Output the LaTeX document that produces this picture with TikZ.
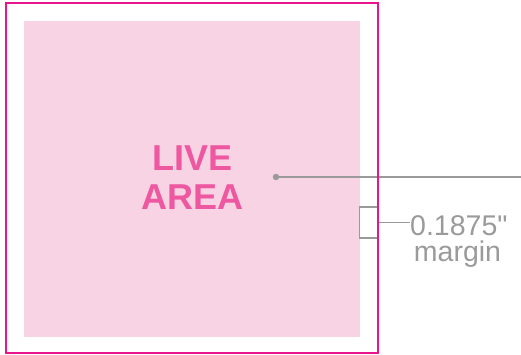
\documentclass[tikz,border=0pt]{standalone}
\usepackage{fontspec}
\setmainfont{Liberation Sans}
\newfontfamily\notefont{Liberation Sans}
\definecolor{trim}{HTML}{E8158C}
\definecolor{livefill}{HTML}{F8D3E4}
\definecolor{livetext}{HTML}{EE58A0}
\definecolor{note}{HTML}{9A9A9A}
\begin{document}
\begin{tikzpicture}[x=1pt,y=1pt]
\path[use as bounding box] (0,0) rectangle (521,355);
\fill[livefill](24,18)rectangle(360,334);
\node[text=livetext,font=\bfseries\fontsize{36}{39}\selectfont,align=center](live) at (192.5,177){LIVE\\AREA};
% pointer out to the right
\coordinate(dot) at (276,178);
\coordinate(out) at (521,178);
\draw[note,line width=1.6](dot)--(out);
\filldraw[note](dot)circle(3);
% margin bracket and label
\node[draw=note,line width=1.6,minimum width=18,minimum height=31,inner sep=0](gap) at (368.5,132.5){};
\node[text=note,font=\notefont\fontsize{28.5}{24}\selectfont,anchor=base west,inner sep=0](size) at (410,119.5){0.1875"};
\node[text=note,font=\notefont\fontsize{28.5}{24}\selectfont,anchor=base,inner sep=0](marg) at (457.5,93){margin};
\draw[note,line width=1.6](gap.east)--(size.west |- gap.east);
% trim line on top
\draw[trim,line width=2.5](6,2)rectangle(378,352);
\end{tikzpicture}
\end{document}
